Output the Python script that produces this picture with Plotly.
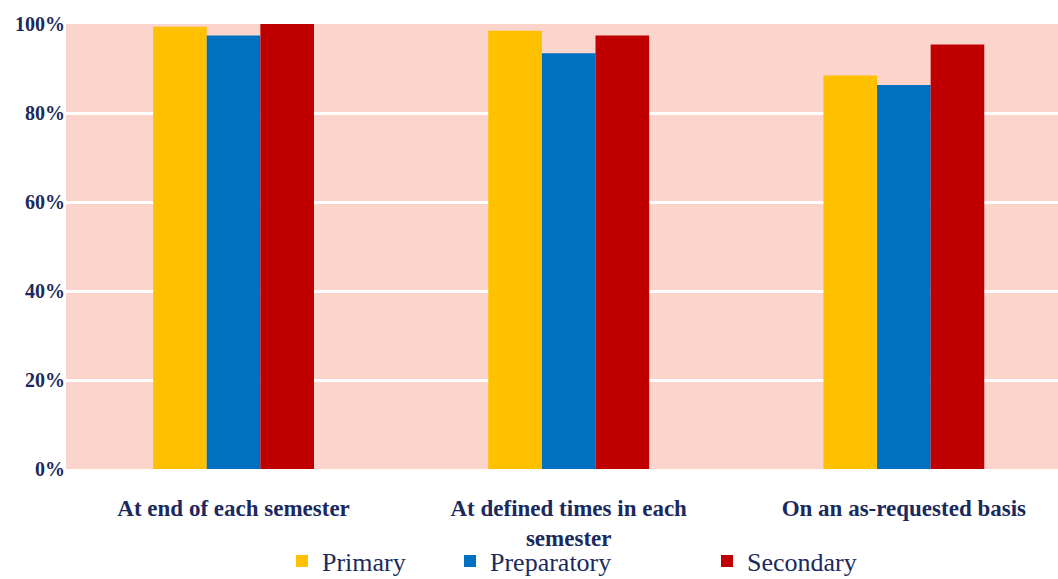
import plotly.graph_objects as go

# Share of schools reporting, by timing of reports
categories = ["At end of each semester",
              "At defined times in each<br>semester",
              "On an as-requested basis"]
series = ["Primary", "Preparatory", "Secondary"]
primary = [99.4, 98.5, 88.4]
preparatory = [97.4, 93.4, 86.3]
secondary = [100.5, 97.4, 95.4]

navy = "#1b2a5e"
font_family = "Times New Roman"
colors = ["#FFC000", "#0070C0", "#C00000"]
# one legend per series so each entry can sit where the reference has it
legend_x = [282, 450, 707]

fig = go.Figure()
legends = {}
for i, (name, vals) in enumerate(zip(series, [primary, preparatory, secondary])):
    key = "legend" if i == 0 else f"legend{i + 1}"
    fig.add_trace(go.Bar(x=categories, y=vals, name=name, legend=key,
                         marker=dict(color=colors[i], line=dict(width=0)),
                         cliponaxis=False))
    legends[key] = dict(orientation="h", xref="container", yref="container",
                        x=legend_x[i] / 1058, xanchor="left",
                        y=18 / 579, yanchor="middle",
                        bgcolor="rgba(0,0,0,0)", itemwidth=30,
                        font=dict(size=26, family=font_family, color=navy))

fig.update_layout(
    width=1058, height=579,
    barmode="group", bargap=0.52, bargroupgap=0,
    plot_bgcolor="#FBD5CC", paper_bgcolor="white",
    margin=dict(l=66, r=0, t=24, b=110),
    font=dict(family=font_family, color=navy),
    showlegend=True,
    **legends,
)
fig.update_xaxes(range=[-0.5, 2.46], showgrid=False, ticks="outside", ticklen=18,
                 tickcolor="rgba(0,0,0,0)", automargin=False,
                 tickfont=dict(size=23, family=font_family, color=navy, weight="bold"))
fig.update_yaxes(range=[0, 100], dtick=20, ticksuffix="%", showgrid=True,
                 gridcolor="white", gridwidth=3, zeroline=False, automargin=False,
                 ticks="",
                 tickfont=dict(size=20, family=font_family, color=navy, weight="bold"))

# drop the default 8px body margin so the figure fills the window
fig.write_html("out.html", config={"displayModeBar": False},
               post_script="document.body.style.margin='0';")
